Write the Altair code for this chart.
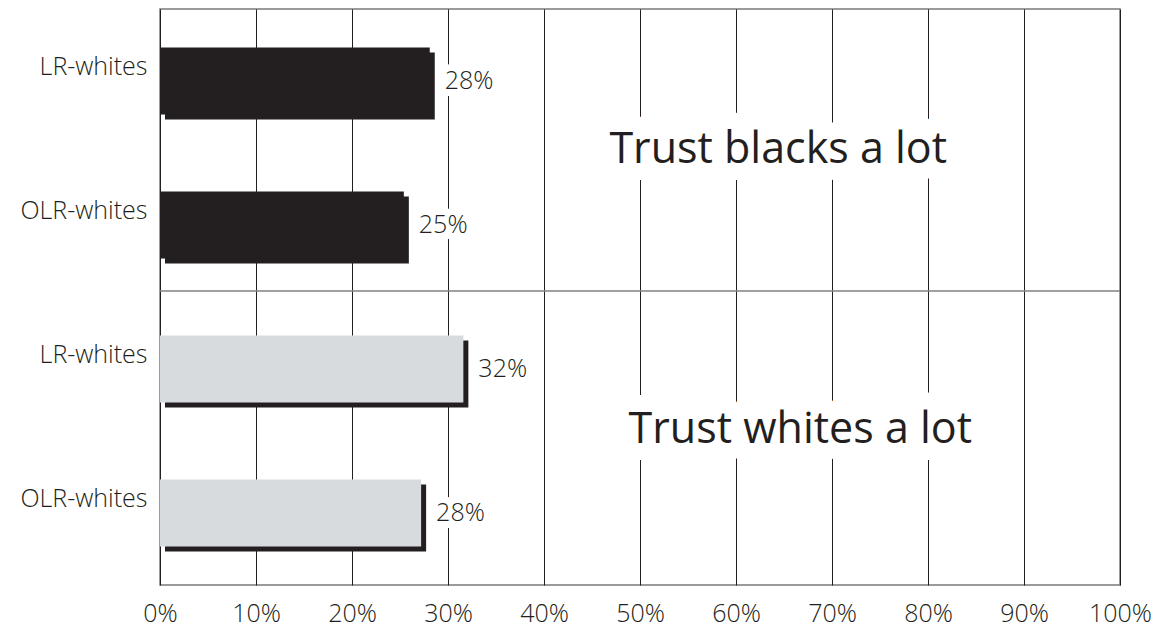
import altair as alt
import pandas as pd

# ---- data ----
rows = ["LR-whites", "OLR-whites", "LR-whites", "OLR-whites"]
panels = ["blacks", "blacks", "whites", "whites"]
values = [28.1, 25.4, 31.6, 27.2]
value_labels = ["28%", "25%", "32%", "28%"]
titles = ["Trust blacks a lot", "Trust whites a lot"]
x_ticks = [0, 10, 20, 30, 40, 50, 60, 70, 80, 90, 100]

keys = [f"{p}|{r}" for p, r in zip(panels, rows)]
df = pd.DataFrame({"key": keys, "panel": panels, "value": values, "label": value_labels})

INK = "#231f20"
GREY = "#d7dbde"
FONT = "Open Sans"

y_enc = alt.Y(
    "key:N",
    sort=keys,
    scale=alt.Scale(domain=keys, paddingInner=0, paddingOuter=0),
    axis=alt.Axis(
        title=None, ticks=False, domain=False, grid=False,
        labelExpr="split(datum.label, '|')[1]",
        labelFont=FONT, labelFontSize=25, labelFontWeight=300, labelColor=INK,
        labelPadding=13, labelOffset=-14,
    ),
)
x_scale = alt.Scale(domain=[0, 100], nice=False)
x_enc = alt.X(
    "value:Q",
    scale=x_scale,
    axis=alt.Axis(
        title=None, values=x_ticks, ticks=False, domain=False,
        grid=True, gridColor=INK, gridWidth=1, gridOpacity=1,
        labelExpr="datum.value + '%'", labelFlush=False, labelAlign="center",
        labelFont=FONT, labelFontSize=25, labelFontWeight=300, labelColor=INK,
        labelPadding=16,
    ),
)
color_enc = alt.Color(
    "panel:N",
    scale=alt.Scale(domain=["blacks", "whites"], range=[INK, GREY]),
    legend=None,
)

base = alt.Chart(df)

shadow = base.mark_bar(size=67, color=INK, xOffset=5, x2Offset=5, yOffset=5, y2Offset=5).encode(
    x=x_enc, y=y_enc
)
bars = base.mark_bar(size=67).encode(x=x_enc, y=y_enc, color=color_enc)

label_halo = base.mark_text(
    align="left", baseline="middle", dx=15, font=FONT, fontSize=25, fontWeight=300,
    color="white", stroke="white", strokeWidth=14, strokeJoin="round",
).encode(x="value:Q", y=alt.Y("key:N", sort=keys), text="label:N")
label_text = base.mark_text(
    align="left", baseline="middle", dx=15, font=FONT, fontSize=25, fontWeight=300,
    color=INK,
).encode(x="value:Q", y=alt.Y("key:N", sort=keys), text="label:N")

divider = base.mark_rule(color="#808080", strokeWidth=1.5, yOffset=-6).encode(
    y=alt.Y("key:N", sort=keys, bandPosition=0),
).transform_filter(alt.datum.key == keys[2])


def title_layer(text, xval, anchor_key, dy):
    halo = alt.Chart(pd.DataFrame({"t": [text]})).mark_text(
        align="center", baseline="middle", font=FONT, fontSize=43, dy=dy,
        color="white", stroke="white", strokeWidth=34, strokeJoin="round",
    ).encode(x=alt.datum(xval), y=alt.datum(anchor_key, bandPosition=0), text="t:N")
    txt = alt.Chart(pd.DataFrame({"t": [text]})).mark_text(
        align="center", baseline="middle", font=FONT, fontSize=43, dy=dy, color=INK,
    ).encode(x=alt.datum(xval), y=alt.datum(anchor_key, bandPosition=0), text="t:N")
    return halo + txt


t1 = title_layer(titles[0], 64.4, keys[1], -3)
t2 = title_layer(titles[1], 66.7, keys[3], -11)

chart = alt.layer(shadow, bars, divider, label_halo, label_text, t1, t2).properties(
    width=960,
    height=576,
    autosize=alt.AutoSizeParams(type="none"),
    padding={"left": 152, "top": 1, "right": 40, "bottom": 46},
).configure_view(
    stroke="#7a7a7a", strokeWidth=1.5
).configure_axis(labelFont=FONT)

chart.save("out.html", embed_options={"renderer": "svg", "actions": False})
